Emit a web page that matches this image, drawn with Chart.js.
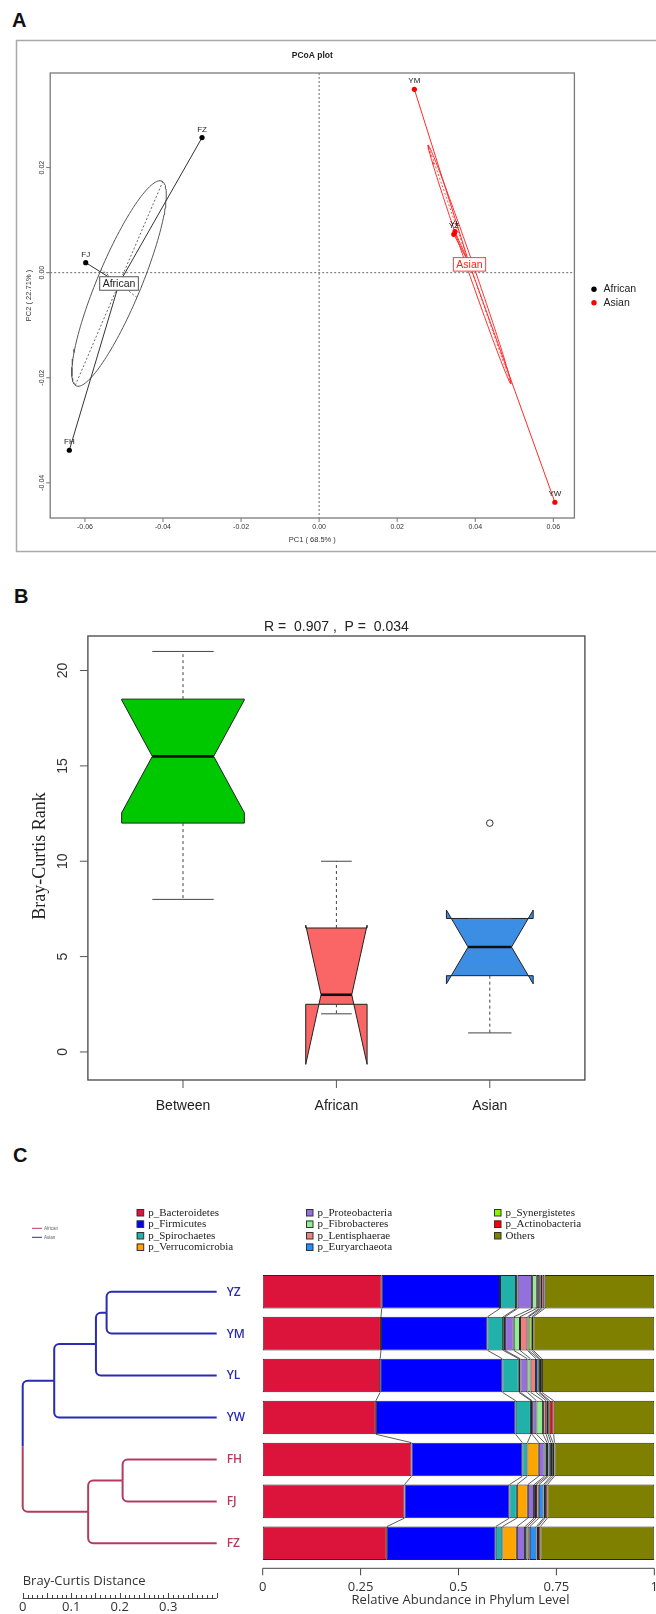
<!DOCTYPE html>
<html lang="en">
<head>
<meta charset="utf-8">
<title>Gut microbiota: PCoA, ANOSIM and phylum composition</title>
<script src="https://cdn.jsdelivr.net/npm/chart.js@4.4.1/dist/chart.umd.min.js"></script>
<style>
  html, body { margin: 0; padding: 0; background: #fff; }
  body { position: relative; width: 656px; height: 1614px; overflow: hidden; }
  canvas { position: absolute; left: 0; }
  .tag { position: absolute; font: bold 20px "Liberation Sans", Arial, sans-serif; line-height: 20px; color: #111; }
</style>
</head>
<body>
<div class="tag" style="left:12px;top:10px">A</div>
<div class="tag" style="left:14px;top:586px">B</div>
<div class="tag" style="left:13px;top:1145px">C</div>
<canvas id="pcoa" width="656" height="560" style="top:0"></canvas>
<canvas id="anosim" width="656" height="540" style="top:580px"></canvas>
<canvas id="phylum" width="656" height="484" style="top:1130px"></canvas>
<canvas id="tree" width="656" height="484" style="top:1130px"></canvas>
<script>
// ---------------- data: PCoA ----------------
const africanSamples = ['FZ', 'FJ', 'FH'];
const africanPC1 = [-0.0300, -0.0598, -0.0640];
const africanPC2 = [0.0257, 0.0019, -0.0338];
const asianSamples = ['YM', 'YZ', 'YL', 'YW'];
const asianPC1 = [0.0244, 0.0345, 0.0348, 0.0604];
const asianPC2 = [0.0349, 0.0073, 0.0078, -0.0437];
const pcoaXTicks = [-0.06, -0.04, -0.02, 0, 0.02, 0.04, 0.06];
const pcoaYTicks = [-0.04, -0.02, 0, 0.02];

// ---------------- data: Bray-Curtis rank boxes ----------------
const boxGroups = ['Between', 'African', 'Asian'];
const boxPairs = [12, 3, 6];
const boxLow = [8, 2, 1];
const boxQ1 = [12, 2.5, 4];
const boxMedian = [15.5, 3, 5.5];
const boxQ3 = [18.5, 6.5, 7];
const boxHigh = [21, 10, 7];
const notchLow = [12.54, -0.65, 3.57];
const notchHigh = [18.46, 6.65, 7.44];
const outlierGroup = [3];
const outlierRank = [12];
const rankTicks = [0, 5, 10, 15, 20];

// ---------------- data: phylum composition ----------------
const samples = ['YZ', 'YM', 'YL', 'YW', 'FH', 'FJ', 'FZ'];
const sampleGroup = ['Asian', 'Asian', 'Asian', 'Asian', 'African', 'African', 'African'];
const phyla = ['p_Bacteroidetes', 'p_Firmicutes', 'p_Spirochaetes', 'p_Verrucomicrobia',
  'p_Proteobacteria', 'p_Fibrobacteres', 'p_Lentisphaerae', 'p_Euryarchaeota',
  'p_Synergistetes', 'p_Actinobacteria', 'Others'];
const bacteroidetes   = [0.304, 0.302, 0.300, 0.289, 0.380, 0.362, 0.317];
const firmicutes      = [0.302, 0.272, 0.312, 0.357, 0.283, 0.268, 0.278];
const spirochaetes    = [0.041, 0.040, 0.042, 0.039, 0.013, 0.019, 0.017];
const verrucomicrobia = [0.004, 0.005, 0.004, 0.003, 0.029, 0.028, 0.037];
const proteobacteria  = [0.037, 0.022, 0.018, 0.011, 0.015, 0.016, 0.021];
const fibrobacteres   = [0.012, 0.016, 0.008, 0.017, 0.006, 0.005, 0.006];
const lentisphaerae   = [0.006, 0.019, 0.014, 0.008, 0.004, 0.007, 0.006];
const euryarchaeota   = [0.004, 0.003, 0.007, 0.005, 0.006, 0.012, 0.017];
const synergistetes   = [0.004, 0.008, 0.003, 0.004, 0.005, 0.004, 0.004];
const actinobacteria  = [0.006, 0.004, 0.005, 0.010, 0.004, 0.006, 0.006];
const others          = [0.280, 0.309, 0.287, 0.257, 0.255, 0.273, 0.291];
const abundanceTicks = [0, 0.25, 0.5, 0.75, 1];

// ---------------- data: Bray-Curtis clustering ----------------
// merge table in hclust style: negative = leaf (1-based), positive = earlier merge
const treeMerge = [[-1, -2], [1, -3], [2, -4], [-5, -6], [4, -7], [3, 5]];
const treeHeight = [0.227, 0.249, 0.335, 0.194, 0.265, 0.400];
const distanceTicks = [0, 0.1, 0.2, 0.3];

// ---------------- shared helpers ----------------
const SANS = '"Liberation Sans", Arial, Helvetica, sans-serif';
const SERIF = '"Liberation Serif", "Times New Roman", serif';
const OPEN = '"Open Sans", "DejaVu Sans", sans-serif';

function seg(ctx, x1, y1, x2, y2) {
  ctx.beginPath(); ctx.moveTo(x1, y1); ctx.lineTo(x2, y2); ctx.stroke();
}
function label(ctx, s, x, y, font, color, align = 'center', base = 'middle', rot = 0) {
  ctx.save();
  ctx.translate(x, y);
  if (rot) ctx.rotate(rot);
  ctx.font = font; ctx.fillStyle = color; ctx.textAlign = align; ctx.textBaseline = base;
  ctx.fillText(s, 0, 0);
  ctx.restore();
}
function baseOptions(pad, xr, yr) {
  return {
    responsive: false, animation: false, events: [],
    layout: { padding: pad },
    plugins: { legend: { display: false }, tooltip: { enabled: false } },
    scales: {
      x: { type: 'linear', min: xr[0], max: xr[1], display: false },
      y: { type: 'linear', min: yr[0], max: yr[1], display: false }
    }
  };
}

// ================= A: PCoA =================
const ELLIPSE_K = 0.8;   // ellipse half-axes in standard deviations

function groupShape(xs, ys, k) {
  const n = xs.length;
  const mx = xs.reduce((s, v) => s + v, 0) / n;
  const my = ys.reduce((s, v) => s + v, 0) / n;
  let vx = 0, vy = 0, cxy = 0;
  xs.forEach((x, i) => {
    const dx = x - mx, dy = ys[i] - my;
    vx += dx * dx / n; vy += dy * dy / n; cxy += dx * dy / n;
  });
  const d = Math.sqrt((vx - vy) ** 2 + 4 * cxy * cxy);
  const l1 = (vx + vy + d) / 2, l2 = Math.max(vx + vy - l1, 0);
  const th = Math.atan2(l1 - vx, cxy);
  const ux = Math.cos(th), uy = Math.sin(th);
  const a = k * Math.sqrt(l1), b = k * Math.sqrt(l2);
  const ring = [];
  for (let i = 0; i <= 144; i++) {
    const t = i / 144 * 2 * Math.PI;
    ring.push({ x: mx + a * Math.cos(t) * ux - b * Math.sin(t) * uy,
                y: my + a * Math.cos(t) * uy + b * Math.sin(t) * ux });
  }
  return {
    center: { x: mx, y: my }, ring,
    major: [{ x: mx - a * ux, y: my - a * uy }, { x: mx + a * ux, y: my + a * uy }],
    minor: [{ x: mx + b * uy, y: my - b * ux }, { x: mx - b * uy, y: my + b * ux }]
  };
}
const pointsOf = (xs, ys) => xs.map((x, i) => ({ x, y: ys[i] }));
const pathSet = (data, color, dash) => ({
  data, showLine: true, pointRadius: 0, borderColor: color, borderWidth: 1, borderDash: dash, fill: false
});
const africanShape = groupShape(africanPC1, africanPC2, ELLIPSE_K);
const asianShape = groupShape(asianPC1, asianPC2, ELLIPSE_K);
const spokes = (shape, xs, ys, color) => xs.map((x, i) => pathSet([shape.center, { x, y: ys[i] }], color, []));

const pcoaDecor = {
  id: 'pcoaDecor',
  beforeDatasetsDraw(chart) {
    const { ctx, chartArea: a, scales: { x, y } } = chart;
    ctx.save();
    ctx.strokeStyle = '#a9a9a9'; ctx.lineWidth = 1.5;
    ctx.strokeRect(16.5, 40.5, 700, 511);
    ctx.strokeStyle = '#6a6a6a'; ctx.lineWidth = 1; ctx.setLineDash([2, 2]);
    const x0 = x.getPixelForValue(0), y0 = y.getPixelForValue(0);
    seg(ctx, x0, a.top, x0, a.bottom);
    seg(ctx, a.left, y0, a.right, y0);
    ctx.restore();
  },
  afterDatasetsDraw(chart) {
    const { ctx, chartArea: a, scales: { x, y } } = chart;
    ctx.save();
    // sample names
    const f8 = '8px ' + SANS;
    africanSamples.forEach((s, i) => label(ctx, s, x.getPixelForValue(africanPC1[i]), y.getPixelForValue(africanPC2[i]) - 8, f8, '#222'));
    asianSamples.forEach((s, i) => label(ctx, s, x.getPixelForValue(asianPC1[i]), y.getPixelForValue(asianPC2[i]) - 8, f8, '#222'));
    // group labels at the centroids
    const tagAt = (shape, s, color, border) => {
      const cx = x.getPixelForValue(shape.center.x), cy = y.getPixelForValue(shape.center.y);
      ctx.font = '10.5px ' + SANS;
      const w = ctx.measureText(s).width + 6, h = 13.5;
      ctx.fillStyle = '#fff'; ctx.fillRect(cx - w / 2, cy - h / 2, w, h);
      ctx.strokeStyle = border; ctx.lineWidth = 1; ctx.strokeRect(cx - w / 2, cy - h / 2, w, h);
      label(ctx, s, cx, cy + 0.5, '10.5px ' + SANS, color);
    };
    tagAt(africanShape, 'African', '#222', '#555');
    tagAt(asianShape, 'Asian', '#ff2020', '#ff4040');
    // plot box
    ctx.strokeStyle = '#7a7a7a'; ctx.lineWidth = 1.3;
    ctx.strokeRect(a.left, a.top, a.right - a.left, a.bottom - a.top);
    // axes
    ctx.lineWidth = 1; ctx.strokeStyle = '#777';
    const f7 = '7px ' + SANS;
    pcoaXTicks.forEach(v => {
      const px = x.getPixelForValue(v);
      seg(ctx, px, a.bottom, px, a.bottom + 4);
      label(ctx, v.toFixed(2), px, a.bottom + 9.5, f7, '#333');
    });
    pcoaYTicks.forEach(v => {
      const py = y.getPixelForValue(v);
      seg(ctx, a.left, py, a.left - 4, py);
      label(ctx, v.toFixed(2), a.left - 8.5, py, f7, '#333', 'center', 'middle', -Math.PI / 2);
    });
    const mid = (a.left + a.right) / 2;
    label(ctx, 'PCoA plot', mid, 56, 'bold 8.5px ' + SANS, '#222');
    label(ctx, 'PC1 ( 68.5% )', mid, a.bottom + 21.5, '7.5px ' + SANS, '#333');
    label(ctx, 'PC2 ( 22.71% )', 28.5, (a.top + a.bottom) / 2, '7.5px ' + SANS, '#333', 'center', 'middle', -Math.PI / 2);
    // legend
    const legend = [['African', '#000'], ['Asian', '#ff0000']];
    legend.forEach(([s, c], i) => {
      const ly = 289.3 + i * 13.4;
      ctx.fillStyle = c; ctx.beginPath(); ctx.arc(594, ly, 2.7, 0, 2 * Math.PI); ctx.fill();
      label(ctx, s, 603.5, ly, '10.5px ' + SANS, '#222', 'left');
    });
    ctx.restore();
  }
};

new Chart(document.getElementById('pcoa'), {
  type: 'scatter',
  data: {
    datasets: [
      { label: 'African', data: pointsOf(africanPC1, africanPC2), pointRadius: 2.6, backgroundColor: '#000', borderWidth: 0 },
      { label: 'Asian', data: pointsOf(asianPC1, asianPC2), pointRadius: 2.6, backgroundColor: '#ff0000', borderWidth: 0 },
      ...spokes(africanShape, africanPC1, africanPC2, '#333'),
      ...spokes(asianShape, asianPC1, asianPC2, '#ff2a2a'),
      pathSet(africanShape.ring, '#555', []),
      pathSet(africanShape.major, '#666', [2, 2]),
      pathSet(africanShape.minor, '#666', [2, 2]),
      pathSet(asianShape.ring, '#ff3030', []),
      pathSet(asianShape.major, '#ff5050', [2, 2]),
      pathSet(asianShape.minor, '#ff5050', [2, 2])
    ]
  },
  options: baseOptions({ left: 50.2, right: 81.6, top: 73, bottom: 42 }, [-0.0689, 0.0654], [-0.0467, 0.0380]),
  plugins: [pcoaDecor]
});

// ================= B: notched boxes of Bray-Curtis ranks =================
const boxColors = ['#00c800', '#fa6666', '#3b8ee4'];

const boxDecor = {
  id: 'boxDecor',
  beforeDatasetsDraw(chart) {
    const { ctx, scales: { x, y } } = chart;
    const px = v => x.getPixelForValue(v), py = v => y.getPixelForValue(v);
    const maxN = Math.max(...boxPairs);
    ctx.save();
    boxGroups.forEach((g, i) => {
      const c = i + 1;
      const hw = 0.4 * Math.sqrt(boxPairs[i] / maxN);
      const xs = [c - hw, c - hw, c - hw / 2, c - hw, c - hw, c + hw, c + hw, c + hw / 2, c + hw, c + hw];
      const ys = [boxQ1[i], notchLow[i], boxMedian[i], notchHigh[i], boxQ3[i], boxQ3[i], notchHigh[i], boxMedian[i], notchLow[i], boxQ1[i]];
      ctx.beginPath();
      xs.forEach((xv, k) => (k ? ctx.lineTo(px(xv), py(ys[k])) : ctx.moveTo(px(xv), py(ys[k]))));
      ctx.closePath();
      ctx.fillStyle = boxColors[i]; ctx.fill();
      ctx.strokeStyle = '#222'; ctx.lineWidth = 1; ctx.lineJoin = 'miter'; ctx.stroke();
      ctx.strokeStyle = '#111'; ctx.lineWidth = 2.6;
      seg(ctx, px(c - hw / 2), py(boxMedian[i]), px(c + hw / 2), py(boxMedian[i]));
      ctx.strokeStyle = '#444'; ctx.lineWidth = 1; ctx.setLineDash([3, 3]);
      if (boxHigh[i] > boxQ3[i]) seg(ctx, px(c), py(boxQ3[i]), px(c), py(boxHigh[i]));
      if (boxLow[i] < boxQ1[i]) seg(ctx, px(c), py(boxQ1[i]), px(c), py(boxLow[i]));
      ctx.setLineDash([]);
      seg(ctx, px(c - hw / 2), py(boxHigh[i]), px(c + hw / 2), py(boxHigh[i]));
      seg(ctx, px(c - hw / 2), py(boxLow[i]), px(c + hw / 2), py(boxLow[i]));
    });
    ctx.restore();
  },
  afterDatasetsDraw(chart) {
    const { ctx, chartArea: a, scales: { x, y } } = chart;
    ctx.save();
    ctx.strokeStyle = '#444'; ctx.lineWidth = 1.3;
    ctx.strokeRect(a.left, a.top, a.right - a.left, a.bottom - a.top);
    ctx.lineWidth = 1; ctx.strokeStyle = '#555';
    const f14 = '14px ' + SANS;
    rankTicks.forEach(v => {
      const py = y.getPixelForValue(v);
      seg(ctx, a.left, py, a.left - 8, py);
      label(ctx, String(v), a.left - 25, py, f14, '#333', 'center', 'middle', -Math.PI / 2);
    });
    boxGroups.forEach((g, i) => {
      const px = x.getPixelForValue(i + 1);
      seg(ctx, px, a.bottom, px, a.bottom + 8);
      label(ctx, g, px, a.bottom + 26, f14, '#222');
    });
    label(ctx, 'R =  0.907 ,  P =  0.034', (a.left + a.right) / 2, a.top - 8.5, f14, '#222');
    label(ctx, 'Bray-Curtis Rank', 40, (a.top + a.bottom) / 2 - 2, '18px ' + SERIF, '#222', 'center', 'middle', -Math.PI / 2);
    ctx.restore();
  }
};

new Chart(document.getElementById('anosim'), {
  type: 'scatter',
  data: {
    datasets: [{
      label: 'outliers',
      data: pointsOf(outlierGroup, outlierRank),
      pointRadius: 3.3, pointBorderWidth: 1, borderColor: '#333', backgroundColor: 'rgba(0,0,0,0)'
    }]
  },
  options: baseOptions({ left: 87.9, right: 71.1, top: 56, bottom: 40 }, [0.38, 3.62], [-1.47, 21.81]),
  plugins: [boxDecor]
});

// ================= C: stacked phylum bars =================
const phylumValues = [bacteroidetes, firmicutes, spirochaetes, verrucomicrobia, proteobacteria,
  fibrobacteres, lentisphaerae, euryarchaeota, synergistetes, actinobacteria, others];
const phylumColors = ['#dc143c', '#0000ff', '#20b2aa', '#ffa500', '#9370db', '#90ee90',
  '#f08080', '#1e90ff', '#7cfc00', '#ff0000', '#808000'];
const groupColors = { Asian: '#2a2ab4', African: '#b23c60' };

const phylumDecor = {
  id: 'phylumDecor',
  beforeDatasetsDraw(chart) {
    // links joining the same boundary on neighbouring bars
    const { ctx } = chart;
    ctx.save();
    ctx.strokeStyle = '#333'; ctx.lineWidth = 0.8;
    for (let k = 0; k < phyla.length - 1; k++) {
      const bars = chart.getDatasetMeta(k).data;
      for (let i = 0; i < samples.length - 1; i++) {
        const b1 = bars[i], b2 = bars[i + 1];
        seg(ctx, b1.x, b1.y + b1.height / 2, b2.x, b2.y - b2.height / 2);
      }
    }
    ctx.restore();
  },
  afterDatasetsDraw(chart) {
    const { ctx, chartArea: a, scales: { x } } = chart;
    ctx.save();
    // abundance axis
    const ay = a.bottom + 4;
    ctx.strokeStyle = '#444'; ctx.lineWidth = 1;
    seg(ctx, x.getPixelForValue(0), ay, x.getPixelForValue(1), ay);
    abundanceTicks.forEach(v => {
      const px = x.getPixelForValue(v);
      seg(ctx, px, ay, px, ay + 7);
      label(ctx, String(v), px, ay + 19, '13px ' + OPEN, '#333');
    });
    label(ctx, 'Relative Abundance in Phylum Level', (a.left + a.right) / 2 + 2, ay + 32, '13px ' + OPEN, '#333');
    // phylum legend in three columns
    const colX = [136.7, 306, 494];
    const rowY = [82.5, 94, 105.5, 117];
    phyla.forEach((p, i) => {
      const col = Math.floor(i / 4), row = i % 4;
      const lx = colX[col], ly = rowY[row];
      ctx.fillStyle = phylumColors[i]; ctx.fillRect(lx, ly - 3.5, 7, 7);
      ctx.strokeStyle = '#333'; ctx.lineWidth = 1; ctx.strokeRect(lx + 0.5, ly - 3, 6.5, 6.5);
      label(ctx, p, lx + 11.5, ly + 0.5, '11px ' + SERIF, '#222', 'left');
    });
    // cluster colour key
    [['African', groupColors.African], ['Asian', groupColors.Asian]].forEach(([s, c], i) => {
      const ly = 98.3 + i * 9;
      ctx.strokeStyle = c; ctx.lineWidth = 1;
      seg(ctx, 32, ly, 42, ly);
      label(ctx, s, 44, ly, '4.5px ' + SANS, '#666', 'left');
    });
    ctx.restore();
  }
};

new Chart(document.getElementById('phylum'), {
  type: 'bar',
  data: {
    labels: samples,
    datasets: phyla.map((p, i) => ({
      label: p, data: phylumValues[i], backgroundColor: phylumColors[i],
      borderColor: '#262626', borderWidth: 1, borderSkipped: false,
      barPercentage: 0.8, categoryPercentage: 1.0
    }))
  },
  options: {
    indexAxis: 'y', responsive: false, animation: false, events: [],
    layout: { padding: { left: 262.7, right: 1.7, top: 140.7, bottom: 49.7 } },
    plugins: { legend: { display: false }, tooltip: { enabled: false } },
    scales: {
      x: { type: 'linear', stacked: true, min: 0, max: 1, display: false },
      y: { type: 'category', stacked: true, display: false }
    }
  },
  plugins: [phylumDecor]
});

// ================= C: Bray-Curtis dendrogram =================
function buildTree() {
  const leaves = samples.map((s, j) => ({ h: 0, y: j, groups: [sampleGroup[j]] }));
  const nodes = [];
  const get = id => (id < 0 ? leaves[-id - 1] : nodes[id - 1]);
  treeMerge.forEach((pair, m) => {
    const a = get(pair[0]), b = get(pair[1]);
    const groups = [...new Set([...a.groups, ...b.groups])];
    nodes.push({ h: treeHeight[m], y: (a.y + b.y) / 2, a, b, groups });
  });
  return nodes;
}
const treeNodes = buildTree();

const treeDecor = {
  id: 'treeDecor',
  afterDatasetsDraw(chart) {
    const { ctx, scales: { x, y } } = chart;
    const px = v => x.getPixelForValue(v), py = v => y.getPixelForValue(v);
    const colorOf = n => groupColors[n.groups[0]];
    const r = 5;
    ctx.save();
    ctx.lineWidth = 2; ctx.lineCap = 'butt';
    treeNodes.forEach(n => {
      const top = n.a.y < n.b.y ? n.a : n.b;
      const bot = top === n.a ? n.b : n.a;
      const xn = px(n.h), ym = py(n.y);
      ctx.strokeStyle = colorOf(top);
      ctx.beginPath(); ctx.moveTo(px(top.h), py(top.y));
      ctx.arcTo(xn, py(top.y), xn, ym, r); ctx.lineTo(xn, ym); ctx.stroke();
      ctx.strokeStyle = colorOf(bot);
      ctx.beginPath(); ctx.moveTo(xn, ym);
      ctx.arcTo(xn, py(bot.y), px(bot.h), py(bot.y), r); ctx.lineTo(px(bot.h), py(bot.y)); ctx.stroke();
    });
    samples.forEach((s, j) => label(ctx, s, px(0) + 10, py(j) + 0.5, '600 12px ' + OPEN, groupColors[sampleGroup[j]], 'left'));
    // distance scale bar
    const d = v => px(x.max - v);
    const by = 468;
    label(ctx, 'Bray-Curtis Distance', d(0), 455, '13px ' + OPEN, '#333', 'left', 'alphabetic');
    ctx.strokeStyle = '#444'; ctx.lineWidth = 1;
    seg(ctx, d(0), by + 0.5, d(x.max), by + 0.5);
    for (let i = 0; i <= 40; i++) {
      const tx = Math.round(d(i / 100)) + 0.5;
      seg(ctx, tx, by, tx, by - (i % 5 === 0 ? 5 : 3));
    }
    distanceTicks.forEach(v => label(ctx, String(v), d(v), 481, '13px ' + OPEN, '#333', 'center', 'alphabetic'));
    ctx.restore();
  }
};

new Chart(document.getElementById('tree'), {
  type: 'scatter',
  data: { datasets: [{ label: 'leaves', data: samples.map((s, j) => ({ x: 0, y: j })), pointRadius: 0 }] },
  options: (() => {
    const o = baseOptions({ left: 22.7, right: 439.3, top: 140.7, bottom: 49.7 }, [0, 0.4], [-0.5, 6.5]);
    o.scales.x.reverse = true;
    o.scales.y.reverse = true;
    return o;
  })(),
  plugins: [treeDecor]
});
</script>
</body>
</html>
